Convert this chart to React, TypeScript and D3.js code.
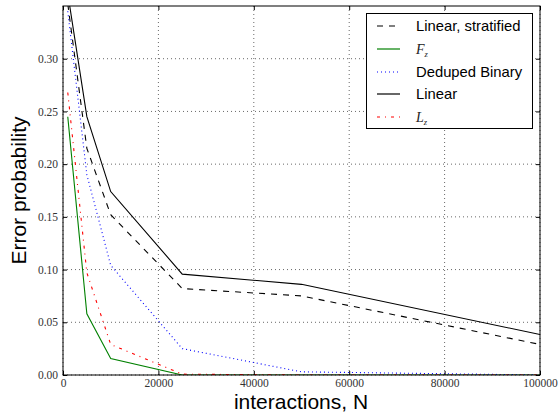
import React from "react";
import * as d3 from "d3";

const Ns = [1000, 5000, 10000, 25000, 50000, 100000];
const linearStratified = [0.352, 0.215, 0.152, 0.082, 0.075, 0.029];
const fz = [0.245, 0.058, 0.0156, 0.0, 0.0, 0.0];
const dedupedBinary = [0.345, 0.19, 0.104, 0.025, 0.003, 0.0];
const linear = [0.362, 0.245, 0.174, 0.0957, 0.086, 0.0384];
const lz = [0.268, 0.097, 0.029, 0.0008, 0.0, 0.0];

const xTicks = [0, 20000, 40000, 60000, 80000, 100000];
const yTicks = [0, 0.05, 0.1, 0.15, 0.2, 0.25, 0.3];

const series = [
  { key: "Linear, stratified", values: linearStratified, color: "#000000", dash: "6,6", math: false },
  { key: "F", values: fz, color: "#008000", dash: null, math: true },
  { key: "Deduped Binary", values: dedupedBinary, color: "#0000ff", dash: "1,3", math: false },
  { key: "Linear", values: linear, color: "#000000", dash: null, math: false },
  { key: "L", values: lz, color: "#ff0000", dash: "3,5,1,5", math: true },
];

const App = () => {
  const svgRef = React.useRef(null);
  const width = 558;
  const height = 412;
  const margin = { top: 6, right: 18, bottom: 37, left: 63 };

  React.useEffect(() => {
    const svg = d3.select(svgRef.current);
    svg.selectAll("*").remove();

    const x = d3
      .scaleLinear()
      .domain([0, 100000])
      .range([margin.left, width - margin.right]);
    const y = d3
      .scaleLinear()
      .domain([0, 0.35])
      .range([height - margin.bottom, margin.top]);

    svg
      .append("defs")
      .append("clipPath")
      .attr("id", "plot-clip")
      .append("rect")
      .attr("x", margin.left)
      .attr("y", margin.top)
      .attr("width", width - margin.left - margin.right)
      .attr("height", height - margin.top - margin.bottom);

    // grid
    const grid = svg.append("g");
    grid
      .selectAll("line.gx")
      .data(xTicks)
      .join("line")
      .attr("class", "gx")
      .attr("x1", (d) => x(d))
      .attr("x2", (d) => x(d))
      .attr("y1", margin.top)
      .attr("y2", height - margin.bottom)
      .attr("stroke", "#000")
      .attr("stroke-width", 0.6)
      .attr("stroke-dasharray", "1,3");
    grid
      .selectAll("line.gy")
      .data(yTicks)
      .join("line")
      .attr("class", "gy")
      .attr("x1", margin.left)
      .attr("x2", width - margin.right)
      .attr("y1", (d) => y(d))
      .attr("y2", (d) => y(d))
      .attr("stroke", "#000")
      .attr("stroke-width", 0.6)
      .attr("stroke-dasharray", "1,3");

    // data lines
    const line = d3
      .line()
      .x((d) => x(d[0]))
      .y((d) => y(d[1]));
    svg
      .append("g")
      .attr("clip-path", "url(#plot-clip)")
      .selectAll("path")
      .data(series)
      .join("path")
      .attr("d", (s) => line(Ns.map((n, i) => [n, s.values[i]])))
      .attr("fill", "none")
      .attr("stroke", (s) => s.color)
      .attr("stroke-width", 1.1)
      .attr("stroke-dasharray", (s) => s.dash);

    // frame
    svg
      .append("rect")
      .attr("x", margin.left)
      .attr("y", margin.top)
      .attr("width", width - margin.left - margin.right)
      .attr("height", height - margin.top - margin.bottom)
      .attr("fill", "none")
      .attr("stroke", "#000")
      .attr("stroke-width", 1);

    // axes with inward ticks on all sides
    const tickFont = "'Liberation Serif', 'DejaVu Serif', serif";
    svg
      .append("g")
      .attr("transform", `translate(0,${height - margin.bottom})`)
      .call(d3.axisBottom(x).tickValues(xTicks).tickSize(-4).tickPadding(4).tickFormat(d3.format("d")))
      .call((g) => g.select(".domain").remove())
      .call((g) => g.selectAll("text").attr("font-family", tickFont).attr("font-size", 11.5).attr("fill", "#333"));
    svg
      .append("g")
      .attr("transform", `translate(0,${margin.top})`)
      .call(d3.axisTop(x).tickValues(xTicks).tickSize(-4).tickFormat(() => ""))
      .call((g) => g.select(".domain").remove());
    svg
      .append("g")
      .attr("transform", `translate(${margin.left},0)`)
      .call(d3.axisLeft(y).tickValues(yTicks).tickSize(-4).tickPadding(5).tickFormat(d3.format(".2f")))
      .call((g) => g.select(".domain").remove())
      .call((g) => g.selectAll("text").attr("font-family", tickFont).attr("font-size", 11.5).attr("fill", "#333"));
    svg
      .append("g")
      .attr("transform", `translate(${width - margin.right},0)`)
      .call(d3.axisRight(y).tickValues(yTicks).tickSize(-4).tickFormat(() => ""))
      .call((g) => g.select(".domain").remove());

    // axis labels
    const labelFont = "'Liberation Sans', Arial, sans-serif";
    svg
      .append("text")
      .attr("x", 301)
      .attr("y", 409)
      .attr("text-anchor", "middle")
      .attr("font-family", labelFont)
      .attr("font-size", 21)
      .text("interactions, N");
    svg
      .append("text")
      .attr("transform", `translate(26,${(margin.top + height - margin.bottom) / 2}) rotate(-90)`)
      .attr("text-anchor", "middle")
      .attr("font-family", labelFont)
      .attr("font-size", 21)
      .text("Error probability");

    // legend
    const lg = svg.append("g");
    lg.append("rect")
      .attr("x", 366.5)
      .attr("y", 13.5)
      .attr("width", 166)
      .attr("height", 115)
      .attr("fill", "#fff")
      .attr("stroke", "#000")
      .attr("stroke-width", 1);
    const rows = lg
      .selectAll("g.row")
      .data(series)
      .join("g")
      .attr("class", "row")
      .attr("transform", (d, i) => `translate(0,${Math.round(26 + i * 22.8)})`);
    rows
      .append("line")
      .attr("x1", 377)
      .attr("x2", 400)
      .attr("y1", 0)
      .attr("y2", 0)
      .attr("stroke", (s) => s.color)
      .attr("stroke-width", 1.2)
      .attr("stroke-dasharray", (s) => s.dash);
    rows.each(function (s) {
      const t = d3
        .select(this)
        .append("text")
        .attr("x", 416)
        .attr("y", 5);
      if (s.math) {
        t.attr("font-family", "'Liberation Serif', 'DejaVu Serif', serif")
          .attr("font-style", "italic")
          .attr("font-size", 14)
          .attr("fill", "#222");
        t.append("tspan").text(s.key);
        t.append("tspan").attr("font-size", 8.5).attr("dy", 3).text("z");
      } else {
        t.attr("font-family", labelFont).attr("font-size", 14.8).text(s.key);
      }
    });
  }, []);

  return (
    <svg ref={svgRef} width={width} height={height} style={{ display: "block", position: "absolute", left: 0, top: 0 }} />
  );
};

export default App;
